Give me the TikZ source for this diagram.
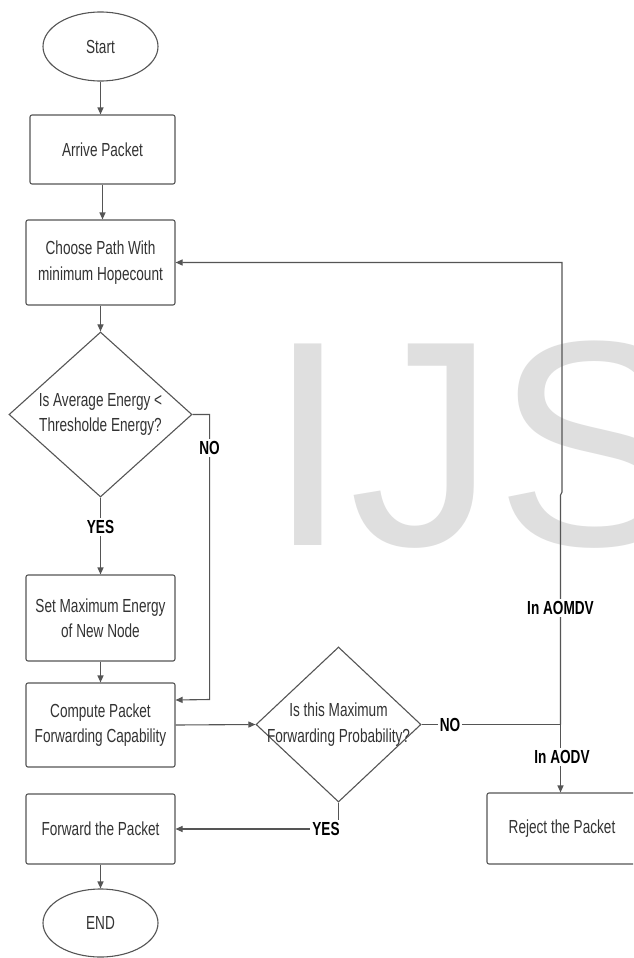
\documentclass[tikz,border=0pt]{standalone}
\usepackage{fontspec}
\setmainfont[FakeStretch=0.72]{Liberation Sans}
\newfontfamily\wmfont{Liberation Sans}
\usetikzlibrary{shapes.geometric,arrows.meta}
\definecolor{ln}{HTML}{555555}
\definecolor{tx}{HTML}{333333}
\definecolor{wm}{HTML}{DFDFDF}
\begin{document}
\begin{tikzpicture}[x=1pt,y=-1pt,
 every node/.style={font=\fontsize{18.9}{25.5}\selectfont, text=tx},
 boxnode/.style={draw=ln, line width=1.1pt, rounded corners=2pt, minimum width=149pt, align=center, inner sep=0},
 ovalnode/.style={draw=ln, line width=1.1pt, ellipse, minimum width=115pt, minimum height=69pt, inner sep=0},
 decnode/.style={draw=ln, line width=1.1pt, diamond, inner sep=0},
 conn/.style={draw=ln, line width=1.1pt, -{Triangle[length=7pt,width=6pt]}},
 plainline/.style={draw=ln, line width=1.1pt},
 lab/.style={font=\bfseries\fontsize{18.9}{22}\selectfont, text=black, fill=white, inner sep=2pt}]
\useasboundingbox (0,0) rectangle (633,958);
\fill[white] (0,0) rectangle (633,958);
\clip (0,0) rectangle (633,958);
% watermark
\node[anchor=base west, inner sep=0, text=wm, font=\wmfont\fontsize{293}{293}\selectfont] (wmark) at (267.7,545) {IJS};
% nodes
\node[ovalnode] (start) at (100.5,46.5) {Start};
\node[boxnode, minimum width=145pt, minimum height=69pt] (arrive) at (102.5,149.5) {Arrive Packet};
\node[boxnode, minimum height=85pt] (choose) at (100.5,262.5) {Choose Path With\\minimum Hopecount};
\node[decnode, minimum width=183pt, minimum height=165pt,
  label={[align=center]center:Is Average Energy <\\Thresholde Energy?}] (d1) at (100.5,414.5) {};
\node[boxnode, minimum height=86pt] (set) at (100.5,618) {Set Maximum Energy\\of New Node};
\node[boxnode, minimum height=84pt] (compute) at (100.5,725) {Compute Packet\\Forwarding Capability};
\node[decnode, minimum width=165pt, minimum height=155pt,
  label={[align=center]center:Is this Maximum\\Forwarding Probability?}] (d2) at (338.5,724.5) {};
\node[boxnode, minimum height=70pt] (forward) at (100.5,829) {Forward the Packet};
\node[ovalnode, minimum height=68pt] (end) at (100.5,923) {END};
\node[boxnode, minimum width=150pt, minimum height=71pt] (reject) at (562,828.5) {Reject the Packet};
\coordinate (jn) at (560.5,724.5);
% connectors
\draw[conn] (start) -- (start |- arrive.north);
\draw[conn] (arrive.south) -- (arrive.south |- choose.north);
\draw[conn] (choose) -- (d1);
\draw[conn] (d1) -- (set);
\draw[conn] (d1.east) -- ++(17,0) -- ++(0,285) -- ([yshift=25pt]compute.east);
\draw[conn] (set) -- (compute);
\draw[conn] (compute.east) -- (d2.west);
\draw[plainline] (d2.east) -- (jn);
\draw[conn] (jn) -- (jn |- reject.north);
\draw[conn] (jn) -- (560.5,495) -- (562,492) -- (562,262.5) -- (choose.east);
\draw[conn] (d2.south) -- (d2.south |- forward) -- (forward.east);
\draw[conn] (forward) -- (end);
% labels
\node[lab] (yes1) at (100.5,527) {YES};
\node[lab] (no1) at (209.5,448) {NO};
\node[lab] (no2) at (450,724.5) {NO};
\node[lab] (yes2) at (326,829) {YES};
\node[lab] (aomdv) at (560.5,608) {In AOMDV};
\node[lab] (aodv) at (562,757) {In AODV};
\end{tikzpicture}
\end{document}
